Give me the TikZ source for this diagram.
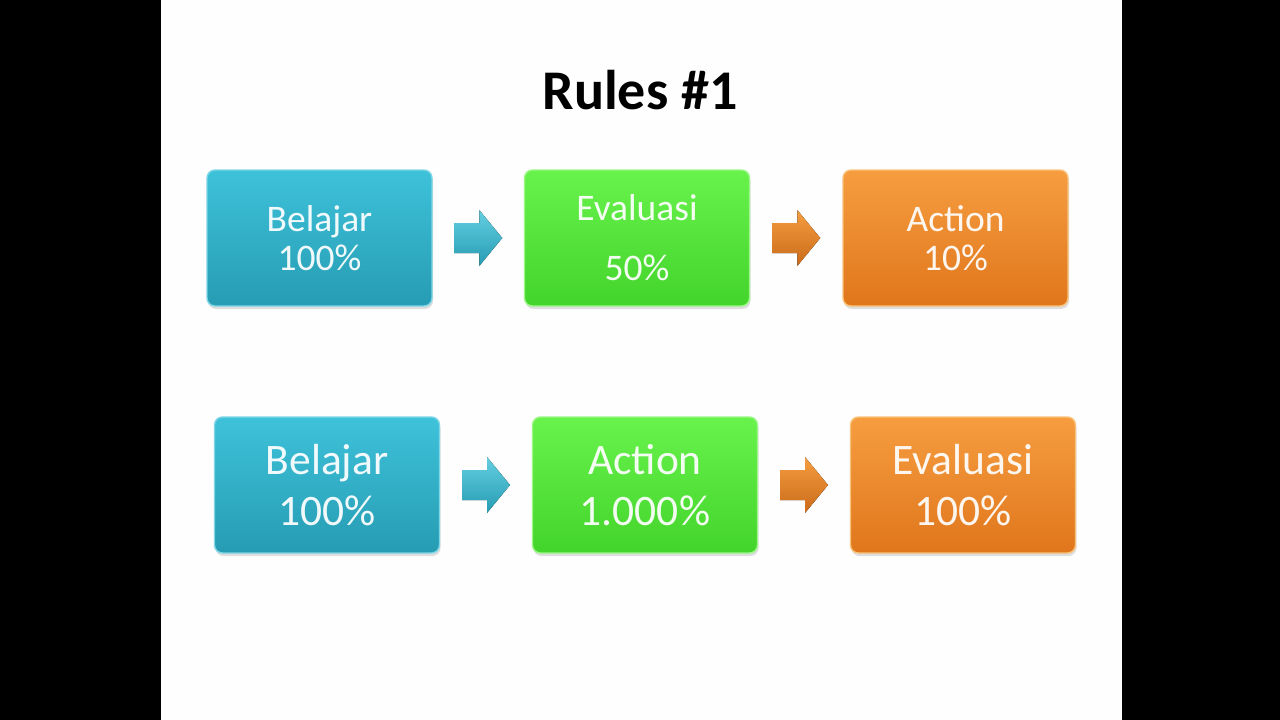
\documentclass[tikz,border=0pt]{standalone}
\usepackage{fontspec}
\setmainfont{Carlito}
\usetikzlibrary{calc,shadows}
\definecolor{bluetop}{HTML}{3EC2DA}
\definecolor{bluebot}{HTML}{269CB3}
\definecolor{blueedge}{HTML}{7ED6E6}
\definecolor{greentop}{HTML}{68F34C}
\definecolor{greenbot}{HTML}{43D42B}
\definecolor{greenedge}{HTML}{9AF786}
\definecolor{orangetop}{HTML}{F69D40}
\definecolor{orangebot}{HTML}{E0761C}
\definecolor{orangeedge}{HTML}{F8C27A}
\definecolor{slidebg}{HTML}{FEFEFE}
\tikzset{
  box/.style={minimum width=225pt, minimum height=136pt, inner sep=0pt,
    rounded corners=8pt, line width=1.4pt, align=center,
    text=white, text opacity=0.93,
    drop shadow={shadow xshift=1pt, shadow yshift=-3pt, opacity=0.25}},
  bluebox/.style={box, top color=bluetop, bottom color=bluebot, draw=blueedge},
  greenbox/.style={box, top color=greentop, bottom color=greenbot, draw=greenedge},
  orangebox/.style={box, top color=orangetop, bottom color=orangebot, draw=orangeedge},
  rowone/.style={font=\fontsize{37.5}{39}\selectfont},
  rowtwo/.style={font=\fontsize{43.5}{51}\selectfont},
  bluearrow/.style={top color=bluetop!80!white, bottom color=bluebot, draw=none},
  orangearrow/.style={top color=orangetop, bottom color=orangebot!90!black, draw=none},
}
\newcommand{\blockarrow}[2]{%
  \fill[#1] (#2) ++(-24pt,15pt) -- ++(25pt,0pt) -- ++(0pt,13pt) -- ++(23pt,-28pt)
    -- ++(-23pt,-28pt) -- ++(0pt,13pt) -- ++(-25pt,0pt) -- cycle;}
\begin{document}
\begin{tikzpicture}[x=1pt,y=-1pt]
\useasboundingbox (0,0) rectangle (1280,720);
\fill[black] (0,0) rectangle (1280,720);
\fill[slidebg] (161,0) rectangle (1122,720);
\node[font=\fontsize{56}{60}\selectfont\bfseries, text=black] (title) at (640,90) {Rules \#1};
% row 1
\node[bluebox, rowone] (b1) at (319.5,238) {Belajar\\100\%};
\node[greenbox, rowone, font=\fontsize{37.5}{60}\selectfont] (g1) at (637,238) {Evaluasi\\50\%};
\node[orangebox, rowone] (o1) at (955.5,238) {Action\\10\%};
% row 2
\node[bluebox, rowtwo] (b2) at (327,485) {Belajar\\100\%};
\node[greenbox, rowtwo] (g2) at (645,485) {Action\\1.000\%};
\node[orangebox, rowtwo] (o2) at (963,485) {Evaluasi\\100\%};
% arrows
\coordinate (a1) at ($(b1.east)!0.5!(g1.west)$);
\coordinate (a2) at ($(g1.east)!0.5!(o1.west)$);
\coordinate (a3) at ($(b2.east)!0.5!(g2.west)$);
\coordinate (a4) at ($(g2.east)!0.5!(o2.west)$);
\blockarrow{bluearrow}{a1}
\blockarrow{orangearrow}{a2}
\blockarrow{bluearrow}{a3}
\blockarrow{orangearrow}{a4}
\end{tikzpicture}
\end{document}
